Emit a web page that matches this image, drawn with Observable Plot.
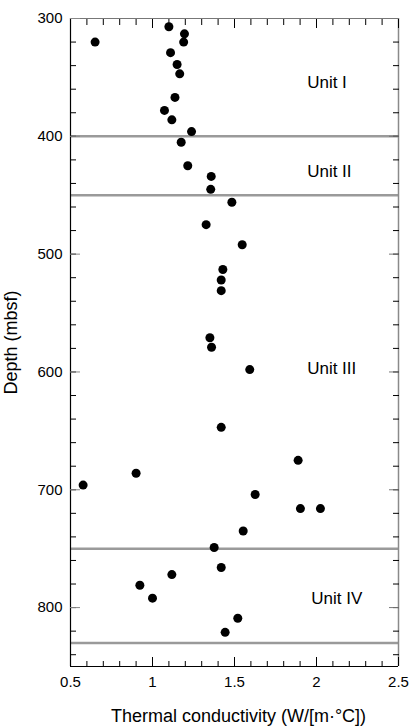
<!DOCTYPE html>
<html>
<head>
<meta charset="utf-8">
<script src="https://cdn.jsdelivr.net/npm/d3@7"></script>
<script src="https://cdn.jsdelivr.net/npm/@observablehq/plot@0.6"></script>
<style>
  html, body { margin: 0; padding: 0; background: #fff; }
  svg { display: block; }
</style>
</head>
<body>
<div id="chart"></div>
<script>
// Thermal conductivity (W/[m·°C]) and depth (mbsf)
const conductivity = [0.65, 1.10, 1.195, 1.19, 1.11, 1.15, 1.166, 1.137, 1.073, 1.118,
  1.238, 1.175, 1.215, 1.358, 1.355, 1.484, 1.327, 1.547, 1.429, 1.419,
  1.419, 1.35, 1.36, 1.593, 1.419, 1.888, 0.90, 0.577, 1.626, 1.902,
  2.024, 1.553, 1.376, 1.419, 1.118, 0.923, 1.0, 1.52, 1.443];
const depth = [320, 307, 313, 320, 329, 339, 347, 367, 378, 386,
  396, 405, 425, 434, 445, 456, 475, 492, 513, 522,
  531, 571, 579, 598, 647, 675, 686, 696, 704, 716,
  716, 735, 749, 766, 772, 781, 792, 809, 821];

// Lithologic units
const unitNames = ["Unit I", "Unit II", "Unit III", "Unit IV"];
const unitLabelDepth = [354, 430, 597, 792];
const unitLabelX = [1.943, 1.943, 1.943, 1.968];
const unitBoundaries = [400, 450, 750, 830];

// Axes
const xTitle = "Thermal conductivity (W/[m·°C])";
const yTitle = "Depth (mbsf)";
const xDomain = [0.5, 2.5];
const yDomain = [300, 850];
const xMajorTicks = [0.5, 1, 1.5, 2, 2.5];
const xMinorTicks = d3.range(5, 26).map(v => v / 10);
const yMajorTicks = [300, 400, 500, 600, 700, 800];
const yMinorTicks = d3.range(300, 851, 20);

const points = conductivity.map((c, i) => ({c, d: depth[i]}));
const units = unitNames.map((name, i) => ({name, d: unitLabelDepth[i], x: unitLabelX[i]}));

const chart = Plot.plot({
  width: 416,
  height: 728,
  marginLeft: 70,
  marginRight: 18,
  marginTop: 18,
  marginBottom: 62,
  style: {fontFamily: "'Liberation Sans', Arial, Helvetica, sans-serif", fontSize: "15px", background: "white", color: "black"},
  x: {domain: xDomain},
  y: {domain: yDomain, reverse: true},
  marks: [
    Plot.ruleY(unitBoundaries, {stroke: "#9a9a9a", strokeWidth: 2.5}),
    // frame
    Plot.ruleX([xDomain[0]], {stroke: "black", strokeWidth: 1.2}),
    Plot.ruleX([xDomain[1]], {stroke: "#8a8a8a", strokeWidth: 1.5}),
    Plot.ruleY([yDomain[0]], {stroke: "#777", strokeWidth: 1.2}),
    Plot.ruleY([yDomain[1]], {stroke: "black", strokeWidth: 1.2}),
    // left axis
    Plot.axisY(yMinorTicks, {anchor: "left", tickSize: -6, fill: "none", label: null}),
    Plot.axisY(yMajorTicks, {anchor: "left", tickSize: -10, tickPadding: 18, stroke: "#888", fill: "black", label: null}),
    // right axis
    Plot.axisY(yMinorTicks, {anchor: "right", tickSize: -6, fill: "none", label: null}),
    Plot.axisY(yMajorTicks, {anchor: "right", tickSize: -10, stroke: "#777", fill: "none", label: null}),
    // top axis
    Plot.axisX(xMinorTicks, {anchor: "top", tickSize: -6, fill: "none", label: null}),
    Plot.axisX(xMajorTicks, {anchor: "top", tickSize: -9, fill: "none", label: null}),
    // bottom axis
    Plot.axisX(xMinorTicks, {anchor: "bottom", tickSize: -5, fill: "none", label: null}),
    Plot.axisX(xMajorTicks, {anchor: "bottom", tickSize: -9, tickPadding: 19, fill: "black",
      tickFormat: d => String(d), label: null}),
    // axis titles
    Plot.text([yTitle], {frameAnchor: "left", rotate: -90, dx: -59.5, fontSize: 18,
      textAnchor: "middle", lineAnchor: "middle", fill: "black"}),
    Plot.text([xTitle], {frameAnchor: "bottom", dx: 4, dy: 50, fontSize: 18,
      textAnchor: "middle", lineAnchor: "middle", fill: "black"}),
    Plot.text(units, {x: "x", y: "d", text: "name", textAnchor: "start", lineAnchor: "middle", fontSize: 17, fill: "black"}),
    Plot.dot(points, {x: "c", y: "d", r: 4.5, fill: "black", stroke: "none"})
  ]
});
document.getElementById("chart").appendChild(chart);
</script>
</body>
</html>
